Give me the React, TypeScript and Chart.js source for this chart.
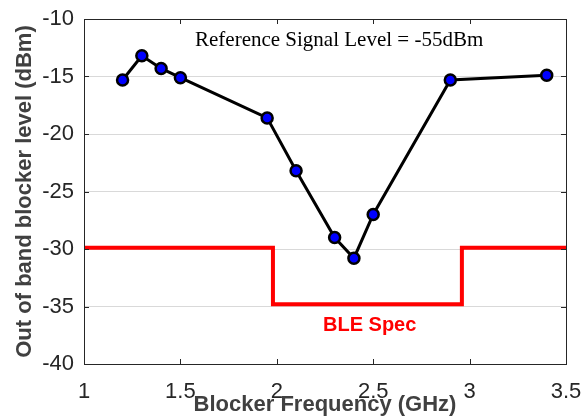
import React, { useEffect, useRef } from "react";
import { Chart, registerables } from "chart.js";

Chart.register(...registerables);

const freqGHz = [1.2, 1.3, 1.4, 1.5, 1.95, 2.1, 2.3, 2.4, 2.5, 2.9, 3.4];
const blockerLevel = [-15.3, -13.2, -14.3, -15.1, -18.6, -23.2, -29.0, -30.8, -27.0, -15.3, -14.9];

const specFreq = [1.0, 1.98, 2.96, 3.5];
const specLevel = [-29.9, -34.8, -29.9, -29.9];

const xTicks = [1, 1.5, 2, 2.5, 3, 3.5];
const yTicks = [-10, -15, -20, -25, -30, -35, -40];

const refText = "Reference Signal Level = -55dBm";
const specText = "BLE Spec";
const xTitle = "Blocker Frequency (GHz)";
const yTitle = "Out of band blocker level (dBm)";

const framePlugin = {
  id: "framePlugin",
  afterDatasetsDraw(chart: any) {
    const { ctx, chartArea, scales } = chart;
    const { left, right, top, bottom } = chartArea;
    ctx.save();
    ctx.strokeStyle = "#262626";
    ctx.lineWidth = 1;
    ctx.strokeRect(Math.round(left) + 0.5, Math.round(top) + 0.5, Math.round(right - left), Math.round(bottom - top));
    const tl = 5;
    ctx.beginPath();
    xTicks.forEach((v) => {
      const px = Math.round(scales.x.getPixelForValue(v)) + 0.5;
      ctx.moveTo(px, bottom);
      ctx.lineTo(px, bottom - tl);
      ctx.moveTo(px, top);
      ctx.lineTo(px, top + tl);
    });
    yTicks.forEach((v) => {
      const py = Math.round(scales.y.getPixelForValue(v)) + 0.5;
      ctx.moveTo(right, py);
      ctx.lineTo(right - tl, py);
      ctx.moveTo(left, py);
      ctx.lineTo(left + tl, py);
    });
    ctx.stroke();

    ctx.fillStyle = "#000000";
    ctx.font = "21px 'Liberation Serif', 'Times New Roman', serif";
    ctx.textAlign = "left";
    ctx.textBaseline = "alphabetic";
    ctx.fillText(refText, 195, 46);

    ctx.fillStyle = "#ff0000";
    ctx.font = "bold 20px 'Liberation Sans', Arial, sans-serif";
    ctx.fillText(specText, 323, 331);
    ctx.restore();
  },
};

export default function App() {
  const canvasRef = useRef<HTMLCanvasElement | null>(null);

  useEffect(() => {
    if (!canvasRef.current) return;
    const chart = new Chart(canvasRef.current, {
      type: "scatter",
      data: {
        datasets: [
          {
            label: "spec",
            data: specFreq.map((x, i) => ({ x, y: specLevel[i] })),
            showLine: true,
            stepped: "before",
            borderColor: "#ff0000",
            borderWidth: 4,
            pointRadius: 0,
            order: 2,
          },
          {
            label: "measured",
            data: freqGHz.map((x, i) => ({ x, y: blockerLevel[i] })),
            showLine: true,
            borderColor: "#000000",
            borderWidth: 3,
            pointRadius: 5.5,
            pointBackgroundColor: "#0000ff",
            pointBorderColor: "#000000",
            pointBorderWidth: 2.5,
            order: 1,
          },
        ],
      },
      options: {
        responsive: false,
        animation: false,
        devicePixelRatio: 1,
        layout: { padding: { top: 19, right: 20, left: 0, bottom: 0 } },
        plugins: { legend: { display: false }, tooltip: { enabled: false } },
        scales: {
          x: {
            type: "linear",
            min: 1,
            max: 3.5,
            afterBuildTicks: (scale: any) => {
              scale.ticks = xTicks.map((v) => ({ value: v }));
            },
            afterFit: (scale: any) => {
              scale.height = 54;
              scale.paddingLeft = 0;
              scale.paddingRight = 0;
            },
            grid: { display: false },
            border: { display: false },
            ticks: {
              padding: 7,
              color: "#262626",
              font: { family: "'Liberation Sans', Arial, sans-serif", size: 22 },
              callback: (v: any) => String(v),
              maxRotation: 0,
            },
            title: {
              display: true,
              text: xTitle,
              color: "#404040",
              font: { family: "'Liberation Sans', Arial, sans-serif", size: 22, weight: "bold" },
              padding: { top: 0, bottom: 0 },
            },
          },
          y: {
            type: "linear",
            min: -40,
            max: -10,
            afterBuildTicks: (scale: any) => {
              scale.ticks = yTicks.map((v) => ({ value: v }));
            },
            afterFit: (scale: any) => {
              scale.width = 84;
              scale.paddingTop = 0;
              scale.paddingBottom = 0;
            },
            grid: { color: "#d9d9d9", lineWidth: 1, drawTicks: false },
            border: { display: false },
            ticks: {
              padding: 10,
              color: "#262626",
              font: { family: "'Liberation Sans', Arial, sans-serif", size: 22 },
            },
            title: {
              display: true,
              text: yTitle,
              color: "#404040",
              font: { family: "'Liberation Sans', Arial, sans-serif", size: 22, weight: "bold" },
              padding: { top: 12, bottom: 0 },
            },
          },
        },
      },
      plugins: [framePlugin],
    } as any);
    return () => chart.destroy();
  }, []);

  return (
    <div style={{ position: "absolute", left: 0, top: 0, width: 586, height: 418, background: "#ffffff" }}>
      <canvas ref={canvasRef} width={586} height={418} />
    </div>
  );
}
